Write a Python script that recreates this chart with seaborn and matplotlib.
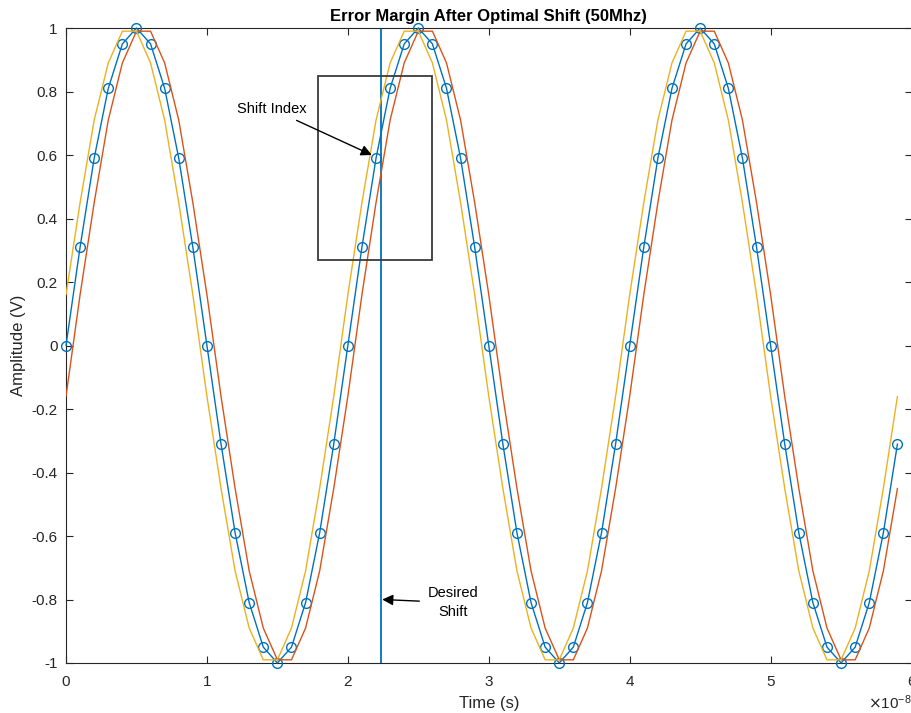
import matplotlib
matplotlib.use("Agg")
import matplotlib.pyplot as plt
import seaborn as sns
import pandas as pd
from matplotlib.patches import Rectangle
from matplotlib.ticker import ScalarFormatter

# ---- data ----
time_ns = [0, 1, 2, 3, 4, 5, 6, 7, 8, 9, 10, 11, 12, 13, 14, 15, 16, 17, 18, 19,
           20, 21, 22, 23, 24, 25, 26, 27, 28, 29, 30, 31, 32, 33, 34, 35, 36, 37, 38, 39,
           40, 41, 42, 43, 44, 45, 46, 47, 48, 49, 50, 51, 52, 53, 54, 55, 56, 57, 58, 59]

signal = [0.0, 0.31, 0.59, 0.81, 0.95, 1.0, 0.95, 0.81, 0.59, 0.31,
          0.0, -0.31, -0.59, -0.81, -0.95, -1.0, -0.95, -0.81, -0.59, -0.31,
          0.0, 0.31, 0.59, 0.81, 0.95, 1.0, 0.95, 0.81, 0.59, 0.31,
          0.0, -0.31, -0.59, -0.81, -0.95, -1.0, -0.95, -0.81, -0.59, -0.31,
          0.0, 0.31, 0.59, 0.81, 0.95, 1.0, 0.95, 0.81, 0.59, 0.31,
          0.0, -0.31, -0.59, -0.81, -0.95, -1.0, -0.95, -0.81, -0.59, -0.31]

lagging = [-0.16, 0.16, 0.45, 0.71, 0.89, 0.99, 0.99, 0.89, 0.71, 0.45,
           0.16, -0.16, -0.45, -0.71, -0.89, -0.99, -0.99, -0.89, -0.71, -0.45,
           -0.16, 0.16, 0.45, 0.71, 0.89, 0.99, 0.99, 0.89, 0.71, 0.45,
           0.16, -0.16, -0.45, -0.71, -0.89, -0.99, -0.99, -0.89, -0.71, -0.45,
           -0.16, 0.16, 0.45, 0.71, 0.89, 0.99, 0.99, 0.89, 0.71, 0.45,
           0.16, -0.16, -0.45, -0.71, -0.89, -0.99, -0.99, -0.89, -0.71, -0.45]

leading = [0.16, 0.45, 0.71, 0.89, 0.99, 0.99, 0.89, 0.71, 0.45, 0.16,
           -0.16, -0.45, -0.71, -0.89, -0.99, -0.99, -0.89, -0.71, -0.45, -0.16,
           0.16, 0.45, 0.71, 0.89, 0.99, 0.99, 0.89, 0.71, 0.45, 0.16,
           -0.16, -0.45, -0.71, -0.89, -0.99, -0.99, -0.89, -0.71, -0.45, -0.16,
           0.16, 0.45, 0.71, 0.89, 0.99, 0.99, 0.89, 0.71, 0.45, 0.16,
           -0.16, -0.45, -0.71, -0.89, -0.99, -0.99, -0.89, -0.71, -0.45, -0.16]

desired_shift = 2.234e-8
shift_box = (1.79e-8, 0.27, 2.60e-8, 0.85)  # x0, y0, x1, y1
shift_index_point = (2.17e-8, 0.60)
y_ticks = [-1, -0.8, -0.6, -0.4, -0.2, 0, 0.2, 0.4, 0.6, 0.8, 1]
y_tick_labels = ["-1", "-0.8", "-0.6", "-0.4", "-0.2", "0", "0.2", "0.4", "0.6", "0.8", "1"]
x_ticks = [0, 1e-8, 2e-8, 3e-8, 4e-8, 5e-8, 6e-8]

df = pd.DataFrame({
    "t": [v * 1e-9 for v in time_ns],
    "signal": signal,
    "lagging": lagging,
    "leading": leading,
})

# ---- style ----
sns.set_theme(style="white")
plt.rcParams["font.family"] = ["Liberation Sans", "DejaVu Sans"]
plt.rcParams["axes.unicode_minus"] = False

BLUE = "#0072BD"
ORANGE = "#D95319"
YELLOW = "#EDB120"
DARK = "#262626"

fig = plt.figure(figsize=(9.12, 7.13), dpi=100)
ax = fig.add_axes([66 / 912, 50 / 713, 1 - 66 / 912 - 0.0005, (663 - 28) / 713])

sns.lineplot(data=df, x="t", y="signal", ax=ax, color=BLUE, lw=1.0,
             marker="o", markersize=7, markerfacecolor="none",
             markeredgecolor=BLUE, markeredgewidth=1.0,
             sort=False, estimator=None, clip_on=False, zorder=3)
sns.lineplot(data=df, x="t", y="lagging", ax=ax, color=ORANGE, lw=1.0,
             sort=False, estimator=None, zorder=3)
sns.lineplot(data=df, x="t", y="leading", ax=ax, color=YELLOW, lw=1.0,
             sort=False, estimator=None, zorder=3)

ax.axvline(desired_shift, color=BLUE, lw=1.3, zorder=2)

x0, y0, x1, y1 = shift_box
ax.add_patch(Rectangle((x0, y0), x1 - x0, y1 - y0, fill=False,
                       edgecolor="#3a3a3a", lw=1.3, zorder=4))

ax.annotate("Shift Index", xy=shift_index_point, xytext=(1.46e-8, 0.745),
            ha="center", va="center", fontsize=10.5, color="black",
            arrowprops=dict(arrowstyle="-|>", color="black", lw=1.0,
                            mutation_scale=16, shrinkA=2, shrinkB=0),
            zorder=5)
ax.annotate("Desired\nShift", xy=(desired_shift + 0.01e-8, -0.80),
            xytext=(2.75e-8, -0.81), ha="center", va="center",
            fontsize=10.5, color="black", linespacing=1.4,
            arrowprops=dict(arrowstyle="-|>", color="black", lw=1.0,
                            mutation_scale=16, shrinkA=4, shrinkB=0),
            zorder=5)

ax.set_xlim(0, 6e-8)
ax.set_ylim(-1, 1)
ax.set_xticks(x_ticks)
ax.set_yticks(y_ticks)
ax.set_yticklabels(y_tick_labels)
fmt = ScalarFormatter(useMathText=True)
fmt.set_powerlimits((0, 0))
ax.xaxis.set_major_formatter(fmt)
ax.xaxis.get_offset_text().set_fontsize(11)
ax.xaxis.get_offset_text().set_color(DARK)

ax.tick_params(axis="both", which="both", direction="in", length=5, width=0.8,
               colors=DARK, labelsize=11, top=True, right=True,
               bottom=True, left=True, pad=6)
ax.tick_params(axis="x", pad=9)
for s in ax.spines.values():
    s.set_color(DARK)
    s.set_linewidth(0.8)
    s.set_visible(True)

ax.set_title("Error Margin After Optimal Shift (50Mhz)", fontsize=12,
             fontweight="bold", color="black", pad=5)
ax.set_xlabel("Time (s)", fontsize=12, color=DARK, labelpad=5)
ax.set_ylabel("Amplitude (V)", fontsize=12, color=DARK, labelpad=4)

fig.savefig("out.png", dpi=100, facecolor="white")
